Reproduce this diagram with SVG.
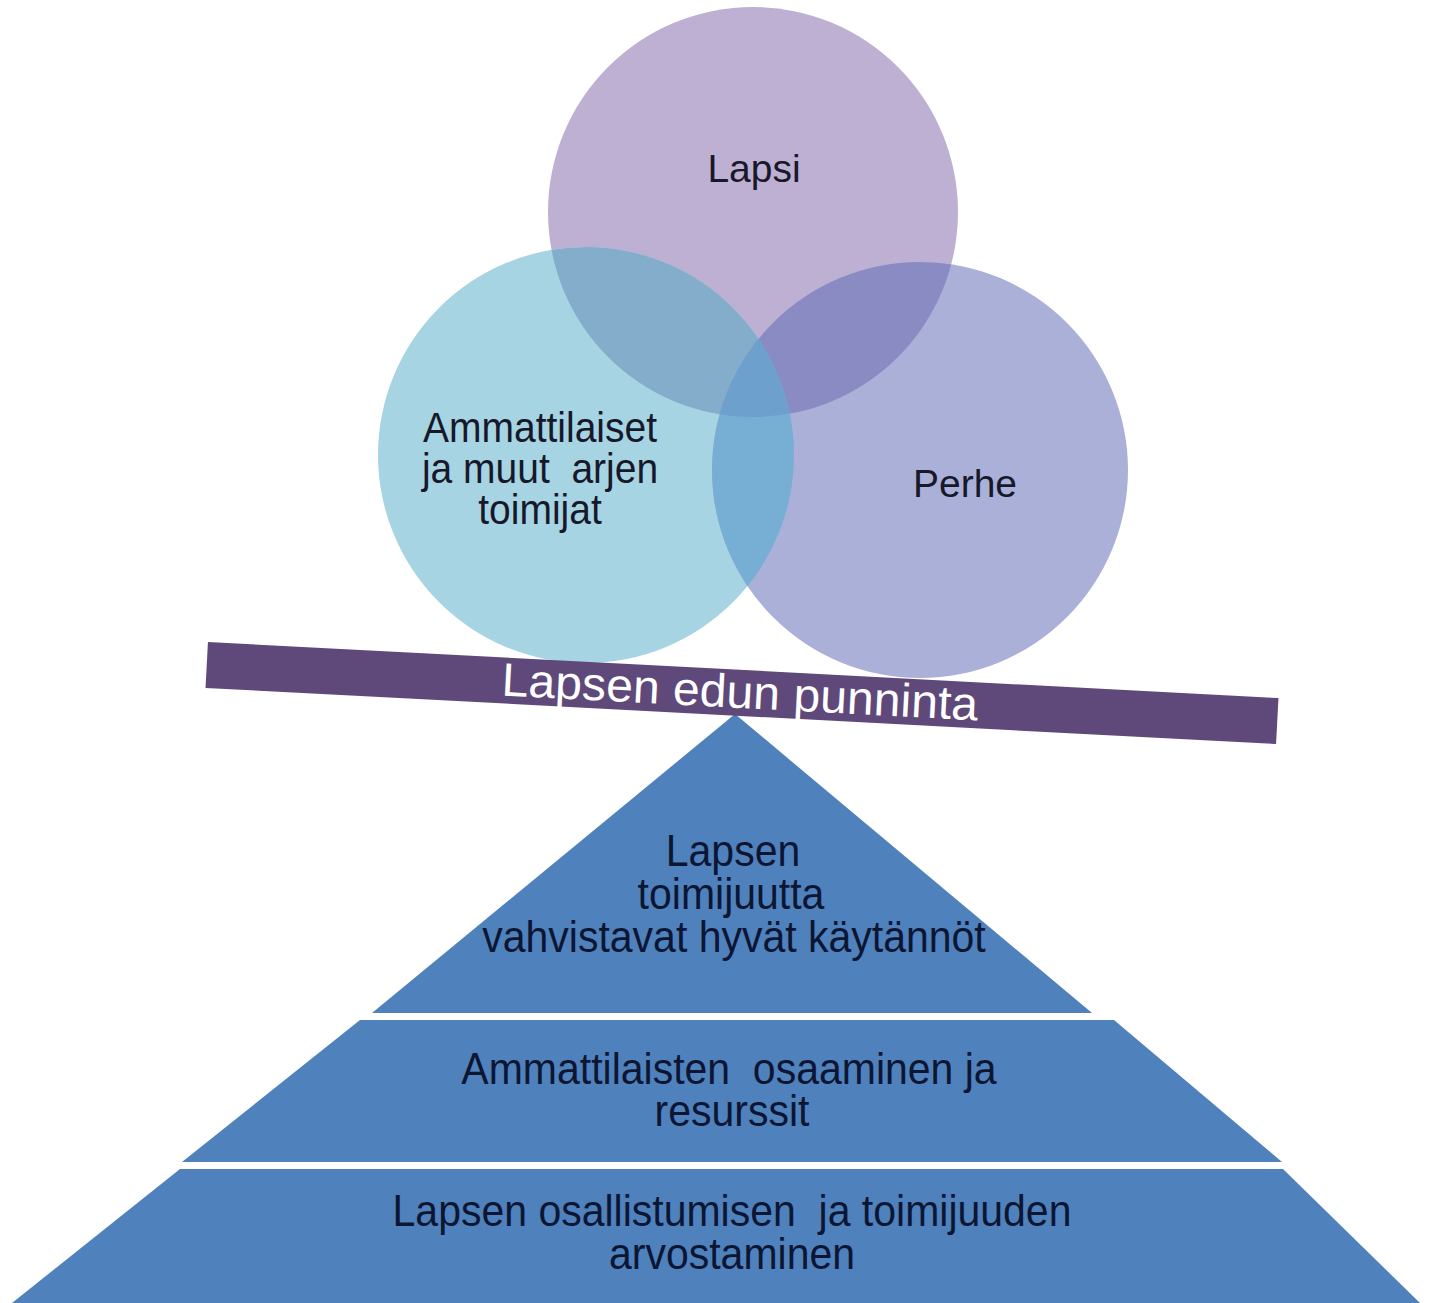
<svg xmlns="http://www.w3.org/2000/svg" width="1430" height="1303" viewBox="0 0 1430 1303">
  <style>
    .lbl { font-family: "Liberation Sans", Arial, sans-serif; fill: #17182a; text-anchor: middle; }
    .circ { font-size: 39px; }
    .pyr { font-size: 41px; fill: #0c1633; }
    .bar { font-family: "Liberation Sans", Arial, sans-serif; font-size: 47px; fill: #ffffff; text-anchor: middle; }
    .tier { fill: #4F81BD; }
  </style>
  <defs>
    <clipPath id="cL"><circle cx="753" cy="212" r="205"/></clipPath>
    <clipPath id="cA"><circle cx="586" cy="455" r="208"/></clipPath>
  </defs>
  <rect width="1430" height="1303" fill="#ffffff"/>

  <g id="node-lapsi">
    <circle cx="753" cy="212" r="205" fill="#BEB0D3"/>
  </g>
  <g id="node-ammattilaiset">
    <circle cx="586" cy="455" r="208" fill="#A6D4E3"/>
  </g>
  <g id="node-perhe">
    <circle cx="920" cy="470" r="208" fill="#AAB0D8"/>
  </g>

  <g id="overlaps">
    <circle cx="586" cy="455" r="208" fill="#84ADCB" clip-path="url(#cL)"/>
    <circle cx="920" cy="470" r="208" fill="#8B8BC3" clip-path="url(#cL)"/>
    <circle cx="920" cy="470" r="208" fill="#77AED3" clip-path="url(#cA)"/>
    <g clip-path="url(#cL)">
      <circle cx="920" cy="470" r="208" fill="#6DA0CC" clip-path="url(#cA)"/>
    </g>
  </g>

  <g id="labels-circles">
    <text class="lbl circ" x="754" y="182">Lapsi</text>
    <g transform="translate(540,442) scale(1,1.08)"><text class="lbl circ" x="0" y="0" xml:space="preserve">Ammattilaiset</text></g>
    <g transform="translate(540,483) scale(1,1.08)"><text class="lbl circ" x="0" y="0" xml:space="preserve">ja muut  arjen</text></g>
    <g transform="translate(540,524) scale(1,1.08)"><text class="lbl circ" x="0" y="0">toimijat</text></g>
    <text class="lbl circ" x="965" y="497">Perhe</text>
  </g>

  <g id="node-pyramid-top">
    <polygon class="tier" points="735,714 372,1013 1092,1013"/>
    <g transform="translate(733,866) scale(1,1.08)"><text class="lbl pyr" x="0" y="0">Lapsen</text></g>
    <g transform="translate(731,909) scale(1,1.08)"><text class="lbl pyr" x="0" y="0">toimijuutta</text></g>
    <g transform="translate(734,952) scale(1,1.08)"><text class="lbl pyr" x="0" y="0">vahvistavat hyvät käytännöt</text></g>
  </g>

  <g id="node-pyramid-middle">
    <polygon class="tier" points="360,1020 1114,1020 1282,1162 182,1162"/>
    <g transform="translate(729,1084) scale(1,1.08)"><text class="lbl pyr" x="0" y="0" xml:space="preserve">Ammattilaisten  osaaminen ja</text></g>
    <g transform="translate(732,1126) scale(1,1.08)"><text class="lbl pyr" x="0" y="0">resurssit</text></g>
  </g>

  <g id="node-pyramid-base">
    <polygon class="tier" points="180,1169 1283,1169 1420,1303 12,1303"/>
    <g transform="translate(732,1226) scale(1,1.08)"><text class="lbl pyr" x="0" y="0" xml:space="preserve">Lapsen osallistumisen  ja toimijuuden</text></g>
    <g transform="translate(732,1269) scale(1,1.08)"><text class="lbl pyr" x="0" y="0">arvostaminen</text></g>
  </g>

  <g id="node-bar" transform="translate(742,693) rotate(3)">
    <rect x="-536" y="-23" width="1072" height="46" fill="#5F497A"/>
    <text class="bar" x="-2" y="15" textLength="477" lengthAdjust="spacingAndGlyphs">Lapsen edun punninta</text>
  </g>

  <g id="connectors"/>
</svg>
